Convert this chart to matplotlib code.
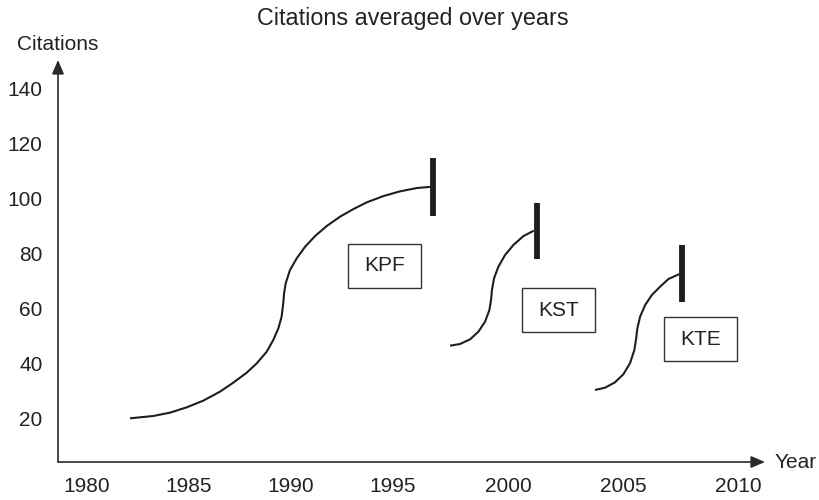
import numpy as np
import matplotlib
matplotlib.use("Agg")
import matplotlib.pyplot as plt
import matplotlib.transforms as mtransforms
from matplotlib.patches import Rectangle

plt.rcParams['font.family'] = ['Liberation Sans', 'DejaVu Sans']

# ---------------- data ----------------
title = "Citations averaged over years"
x_label = "Year"
y_label = "Citations"
x_ticks = [1980, 1985, 1990, 1995, 2000, 2005, 2010]
y_ticks = [20, 40, 60, 80, 100, 120, 140]

kpf_years = [1982.11, 1983.25, 1984.07, 1984.89, 1985.70, 1986.52, 1987.17,
             1987.83, 1988.32, 1988.81, 1989.13, 1989.38, 1989.54, 1989.62,
             1989.66, 1989.74, 1989.95, 1990.28, 1990.69, 1991.18, 1991.75,
             1992.40, 1993.06, 1993.71, 1994.53, 1995.30, 1996.03, 1996.70]
kpf_cites = [20.24, 21.09, 22.30, 24.23, 26.65, 29.91, 33.17,
             36.80, 40.18, 44.41, 48.64, 52.88, 57.10, 61.94,
             65.57, 69.19, 74.02, 78.26, 82.48, 86.35, 89.98,
             93.36, 96.14, 98.56, 100.85, 102.55, 103.76, 104.24]

kst_years = [1997.48, 1997.91, 1998.35, 1998.71, 1999.00, 1999.19, 1999.26,
             1999.30, 1999.39, 1999.58, 1999.87, 2000.23, 2000.67, 2001.12]
kst_cites = [46.59, 47.19, 48.89, 51.66, 55.29, 59.52, 63.15,
             66.77, 71.00, 75.23, 79.46, 83.09, 86.35, 88.29]

kte_years = [2003.78, 2004.22, 2004.65, 2005.01, 2005.30, 2005.49, 2005.57,
             2005.62, 2005.74, 2005.96, 2006.25, 2006.61, 2006.97, 2007.45]
kte_cites = [30.51, 31.36, 33.30, 36.20, 40.18, 45.02, 49.25,
             52.88, 57.10, 61.33, 64.96, 67.98, 70.76, 72.57]

# end-markers (vertical bars): year, low, high
bar_years = [1996.74, 2001.26, 2007.57]
bar_low = [93.8, 78.2, 62.4]
bar_high = [114.5, 98.5, 83.1]

labels = ["KPF", "KST", "KTE"]
label_years = [1994.6, 2002.2, 2008.35]
label_cites = [75.5, 59.5, 49.0]

# ---------------- layout ----------------
W, H = 819, 500
fig = plt.figure(figsize=(W / 100, H / 100), dpi=100)
ax = fig.add_axes([58 / W, 38 / H, (765 - 58) / W, (462 - 60) / H])

# piecewise-linear year scale (the drawing is slightly non-uniform)
def fwd(x):
    x = np.asarray(x, dtype=float)
    return np.where(x < 1995, (x - 1980) * 20.4, 306 + (x - 1995) * 23.0)

def inv(u):
    u = np.asarray(u, dtype=float)
    return np.where(u < 306, 1980 + u / 20.4, 1995 + (u - 306) / 23.0)

ax.set_xscale('function', functions=(fwd, inv))
ax.set_xlim(1978.58, 2011.17)
ax.set_ylim(4.4, 150.2)

ink = '#1e1e1e'
for xs, ys in [(kpf_years, kpf_cites), (kst_years, kst_cites), (kte_years, kte_cites)]:
    ax.plot(xs, ys, color=ink, lw=1.5, solid_capstyle='butt', solid_joinstyle='round')

ax.vlines(bar_years, bar_low, bar_high, colors=ink, lw=4.2)

fs = 15
# labelled boxes (fixed pixel size 73 x 44)
for lab, lx, ly in zip(labels, label_years, label_cites):
    tr = mtransforms.Affine2D().scale(1.0) + mtransforms.ScaledTranslation(lx, ly, ax.transData)
    ax.add_patch(Rectangle((-36.5, -22), 73, 44, transform=tr, fill=False,
                           edgecolor='#333333', lw=1.0, clip_on=False))
    ax.text(lx, ly, lab, ha='center', va='center', fontsize=fs, color='#222222')

# axes with arrows
for s in ax.spines.values():
    s.set_visible(False)
for tip in [(1, 0), (0, 1)]:
    ax.annotate('', xy=tip, xytext=(0, 0), xycoords='axes fraction',
                arrowprops=dict(arrowstyle='-|>,head_length=0.7,head_width=0.3',
                                color='#2a2a2a', lw=1.2, shrinkA=0, shrinkB=0,
                                mutation_scale=12), annotation_clip=False)

ax.set_xticks(x_ticks)
ax.set_xticklabels([str(t) for t in x_ticks])
ax.set_yticks(y_ticks)
ax.set_yticklabels([str(t) for t in y_ticks])
ax.tick_params(axis='both', length=0, labelsize=fs, labelcolor='#222222')
ax.tick_params(axis='x', pad=10.5)
ax.tick_params(axis='y', pad=11)
ax.minorticks_off()
ax.set_facecolor('none')

fig.text(413 / W, 1 - 19 / H, title, ha='center', va='center', fontsize=16.8, color='#222222')
fig.text(17 / W, 1 - 44 / H, y_label, ha='left', va='center', fontsize=fs, color='#222222')
fig.text(775 / W, 1 - 463 / H, x_label, ha='left', va='center', fontsize=fs, color='#222222')

fig.savefig('out.png', dpi=100)
